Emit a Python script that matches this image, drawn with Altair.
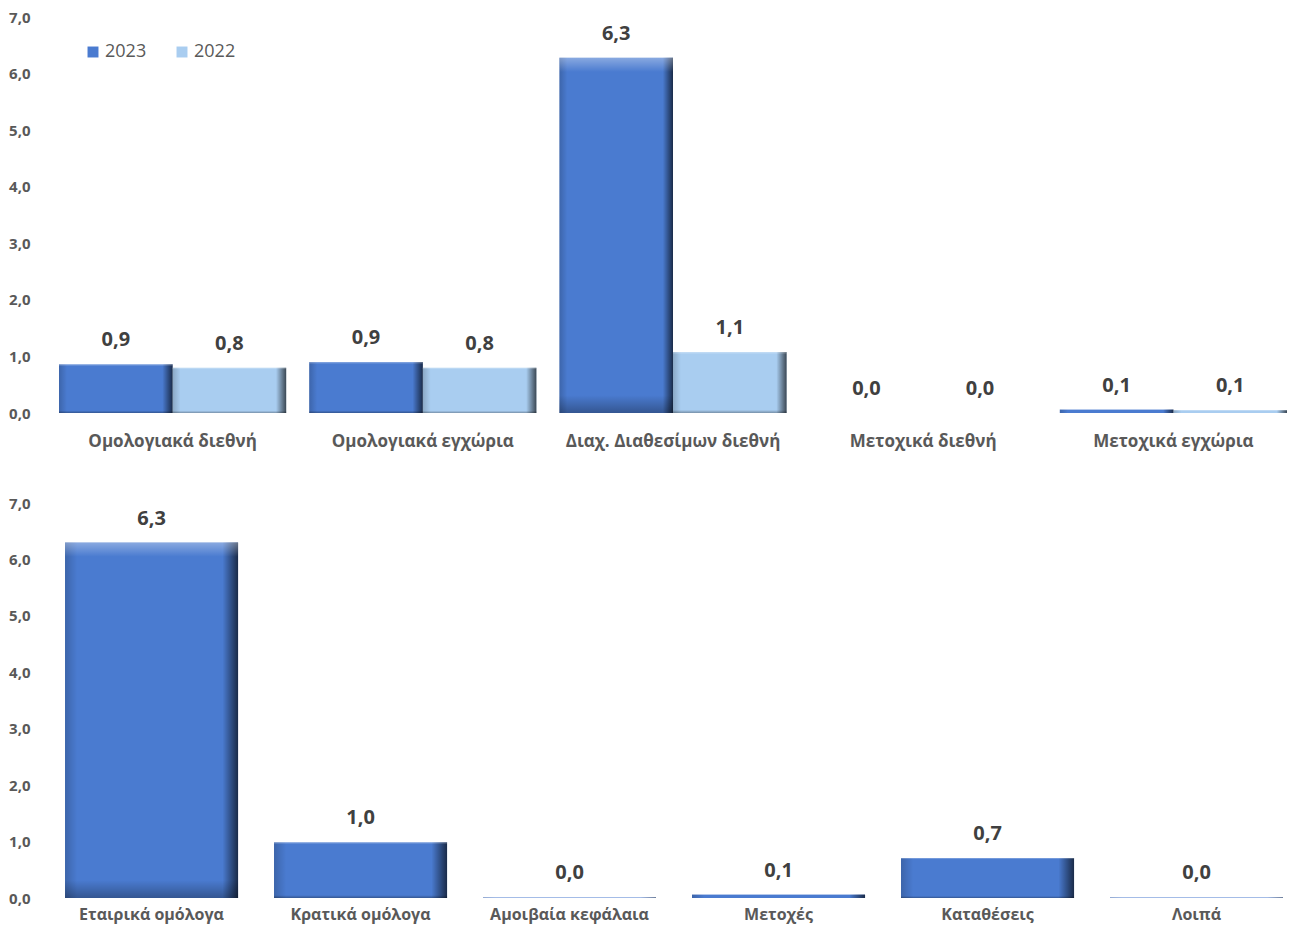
import altair as alt
import pandas as pd

top_cats = ["Ομολογιακά διεθνή", "Ομολογιακά εγχώρια", "Διαχ. Διαθεσίμων διεθνή",
            "Μετοχικά διεθνή", "Μετοχικά εγχώρια"]
series = ["2023", "2022"]
vals_2023 = [0.86, 0.90, 6.28, 0.0, 0.06]
vals_2022 = [0.80, 0.80, 1.08, 0.0, 0.05]

bottom_cats = ["Εταιρικά ομόλογα", "Κρατικά ομόλογα", "Αμοιβαία κεφάλαια",
               "Μετοχές", "Καταθέσεις", "Λοιπά"]
bottom_vals = [6.30, 0.99, 0.01, 0.06, 0.71, 0.01]

FONT = "Open Sans"
C23 = "#4a7bd0"
C22 = "#a9cdf0"
GRAY = "#595959"
DARK = "#404040"

top_rows = []
for c, a, b in zip(top_cats, vals_2023, vals_2022):
    top_rows.append({"cat": c, "series": "2023", "value": a})
    top_rows.append({"cat": c, "series": "2022", "value": b})
top_df = pd.DataFrame(top_rows)
bot_df = pd.DataFrame({"cat": bottom_cats, "value": bottom_vals})

label_expr = "replace(format(datum.value, '.1f'), '.', ',')"

def y_enc():
    return alt.Y("value:Q", scale=alt.Scale(domain=[0, 7], nice=False),
                 axis=alt.Axis(values=[0, 1, 2, 3, 4, 5, 6, 7], labelExpr=label_expr,
                               title=None, grid=False, domain=False, ticks=False,
                               tickSize=0, labelPadding=21, labelFontWeight="bold",
                               labelFontSize=15, labelColor=GRAY, labelFont=FONT))

edge = alt.Gradient(gradient="linear", x1=0, x2=1, y1=0, y2=0, stops=[
    alt.GradientStop(color="rgba(0,0,0,0.18)", offset=0),
    alt.GradientStop(color="rgba(0,0,0,0)", offset=0.07),
    alt.GradientStop(color="rgba(0,0,0,0)", offset=0.91),
    alt.GradientStop(color="rgba(0,0,0,0.65)", offset=1)])
shine = alt.Gradient(gradient="linear", x1=0, x2=0, y1=0, y2=1, stops=[
    alt.GradientStop(color="rgba(255,255,255,0.35)", offset=0),
    alt.GradientStop(color="rgba(255,255,255,0)", offset=0.04),
    alt.GradientStop(color="rgba(0,0,0,0)", offset=0.95),
    alt.GradientStop(color="rgba(0,0,0,0.3)", offset=1)])

# ---------- top panel ----------
tx = alt.X("cat:N", sort=top_cats,
           scale=alt.Scale(paddingInner=0.092, paddingOuter=0.016, align=1),
           axis=alt.Axis(title=None, labelAngle=0, domain=False, ticks=False,
                         labelPadding=20, labelFontWeight="bold", labelFontSize=17,
                         labelLimit=0, labelColor=GRAY, labelFont=FONT))
txo = alt.XOffset("series:N", sort=series, scale=alt.Scale(domain=series))
tbase = alt.Chart(top_df).transform_calculate(
    label="replace(format(datum.value, '.1f'), '.', ',')")

tbars = tbase.mark_bar().encode(
    x=tx, xOffset=txo, y=y_enc(),
    color=alt.Color("series:N", sort=series,
                    scale=alt.Scale(domain=series, range=[C23, C22]),
                    legend=alt.Legend(title=None, orient="none", legendX=33, legendY=26,
                                      direction="horizontal", symbolType="square",
                                      symbolSize=120, symbolStrokeWidth=0,
                                      labelFontSize=18, labelColor=GRAY, labelFont=FONT,
                                      columnPadding=26, labelOffset=3)))
tedge = tbase.mark_bar(fill=edge).encode(x=tx, xOffset=txo, y="value:Q")
tshine = tbase.mark_bar(fill=shine).encode(x=tx, xOffset=txo, y="value:Q")
ttext = tbase.mark_text(dy=-24, baseline="middle", fontSize=20, fontWeight="bold",
                        color=DARK, font=FONT).encode(
    x=tx, xOffset=txo, y="value:Q", text="label:N")

top = alt.layer(tbars, tedge, tshine, ttext).properties(width=1236, height=396)

# ---------- bottom panel ----------
bx = alt.X("cat:N", sort=bottom_cats,
           scale=alt.Scale(paddingInner=0.172, paddingOuter=0.043, align=0.78),
           axis=alt.Axis(title=None, labelAngle=0, domain=False, ticks=False,
                         labelPadding=8, labelFontWeight="bold", labelFontSize=16,
                         labelLimit=0, labelColor=GRAY, labelFont=FONT))
bbase = alt.Chart(bot_df).transform_calculate(
    label="replace(format(datum.value, '.1f'), '.', ',')")
bbars = bbase.mark_bar(color=C23).encode(x=bx, y=y_enc())
bedge = bbase.mark_bar(fill=edge).encode(x=bx, y="value:Q")
bshine = bbase.mark_bar(fill=shine).encode(x=bx, y="value:Q")
btext = bbase.mark_text(dy=-24, baseline="middle", fontSize=20, fontWeight="bold",
                        color=DARK, font=FONT).encode(x=bx, y="value:Q", text="label:N")
bottom = alt.layer(bbars, bedge, bshine, btext).properties(width=1236, height=395)

chart = alt.vconcat(top, bottom, spacing=47).properties(
    padding={"left": 0, "top": 2, "right": 0, "bottom": 5}
).configure_view(stroke=None)

chart.save("out.html", embed_options={"renderer": "svg", "actions": False})
